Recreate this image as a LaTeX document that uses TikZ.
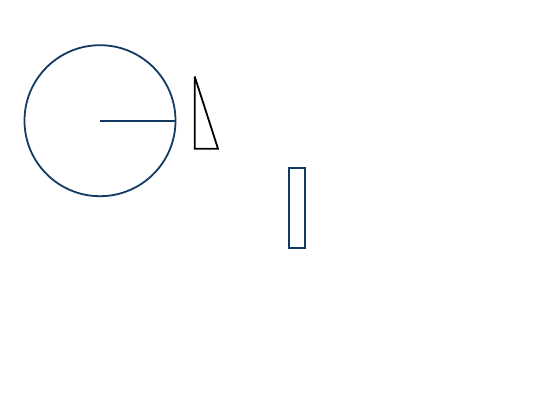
\documentclass[tikz,border=0pt]{standalone}
\definecolor{navy}{RGB}{18,58,98}
\begin{document}
\begin{tikzpicture}[x=1pt,y=-1pt,
  shapeline/.style={line width=1.8pt}]
\useasboundingbox (0,0) rectangle (560,404);
\coordinate (c) at (100,120.7);
\coordinate (r) at (175.5,120.7);
\draw[shapeline,navy] (c) circle[radius=75.5];
\draw[shapeline,navy] (c) -- (r);
\coordinate (t1) at (194.7,76.5);
\coordinate (t2) at (194.7,148.7);
\coordinate (t3) at (218,148.7);
\draw[shapeline,black,line join=miter,miter limit=2] (t1) -- (t2) -- (t3) -- cycle;
\coordinate (b1) at (289,167.7);
\coordinate (b2) at (305.3,248);
\draw[shapeline,navy] (b1) rectangle (b2);
\end{tikzpicture}
\end{document}
